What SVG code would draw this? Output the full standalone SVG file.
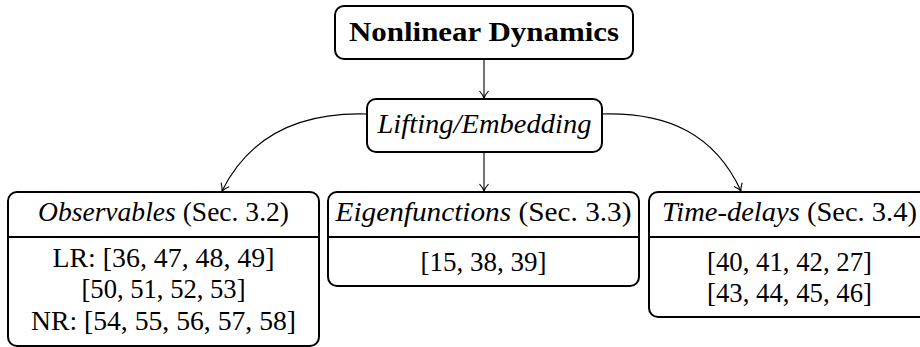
<svg xmlns="http://www.w3.org/2000/svg" width="920" height="347" viewBox="0 0 920 347" font-family="Liberation Serif, serif">
<style>
.box{fill:#fff;stroke:#000;stroke-width:2}
.div{stroke:#000;stroke-width:2}
.t{font-size:27px;fill:#000;text-anchor:middle}
.b{font-weight:bold}
.i{font-style:italic}
.c{fill:none;stroke:#000;stroke-width:1.1}
</style>
<defs>
<marker id="ah" viewBox="-10 -6 12 12" refX="0" refY="0" markerWidth="12" markerHeight="12" markerUnits="userSpaceOnUse" orient="auto">
<path d="M-7,-4.5 Q-3,-1 0,0 Q-3,1 -7,4.5" fill="none" stroke="#000" stroke-width="1.1"/>
</marker>
</defs>
<rect width="920" height="347" fill="#fff"/>
<g id="connectors">
<line class="c" x1="484" y1="59" x2="484" y2="98" marker-end="url(#ah)"/>
<line class="c" x1="484" y1="152" x2="484" y2="191" marker-end="url(#ah)"/>
<path class="c" d="M367,114 C300,112 250,135 222,191" marker-end="url(#ah)"/>
<path class="c" d="M602,114 C669,112 715,135 741,191" marker-end="url(#ah)"/>
</g>
<g id="nonlinear">
<rect class="box" x="335" y="6" width="298" height="53" rx="9"/>
<text class="t b" x="484" y="41" textLength="270" lengthAdjust="spacingAndGlyphs">Nonlinear Dynamics</text>
</g>
<g id="lifting">
<rect class="box" x="367" y="99" width="235" height="53" rx="9"/>
<text class="t i" x="484.5" y="133" textLength="214" lengthAdjust="spacingAndGlyphs">Lifting/Embedding</text>
</g>
<g id="observables">
<rect class="box" x="8" y="192" width="311" height="154" rx="9"/>
<line class="div" x1="8" y1="237" x2="319" y2="237"/>
<text class="t" x="163.5" y="221" textLength="251" lengthAdjust="spacingAndGlyphs"><tspan class="i">Observables</tspan> (Sec. 3.2)</text>
<text class="t" x="163.5" y="267" textLength="222" lengthAdjust="spacingAndGlyphs">LR: [36, 47, 48, 49]</text>
<text class="t" x="163.5" y="298" textLength="164" lengthAdjust="spacingAndGlyphs">[50, 51, 52, 53]</text>
<text class="t" x="163.5" y="330" textLength="265" lengthAdjust="spacingAndGlyphs">NR: [54, 55, 56, 57, 58]</text>
</g>
<g id="eigenfunctions">
<rect class="box" x="328" y="192" width="311" height="94" rx="9"/>
<line class="div" x1="328" y1="237" x2="639" y2="237"/>
<text class="t" x="483.5" y="221" textLength="296" lengthAdjust="spacingAndGlyphs"><tspan class="i">Eigenfunctions</tspan> (Sec. 3.3)</text>
<text class="t" x="483.5" y="271">[15, 38, 39]</text>
</g>
<g id="timedelays">
<rect class="box" x="649" y="192" width="281" height="125" rx="9"/>
<line class="div" x1="649" y1="237" x2="930" y2="237"/>
<text class="t" x="789.5" y="221" textLength="255" lengthAdjust="spacingAndGlyphs"><tspan class="i">Time-delays</tspan> (Sec. 3.4)</text>
<text class="t" x="789.5" y="271" textLength="165" lengthAdjust="spacingAndGlyphs">[40, 41, 42, 27]</text>
<text class="t" x="789.5" y="302" textLength="165" lengthAdjust="spacingAndGlyphs">[43, 44, 45, 46]</text>
</g>
</svg>
